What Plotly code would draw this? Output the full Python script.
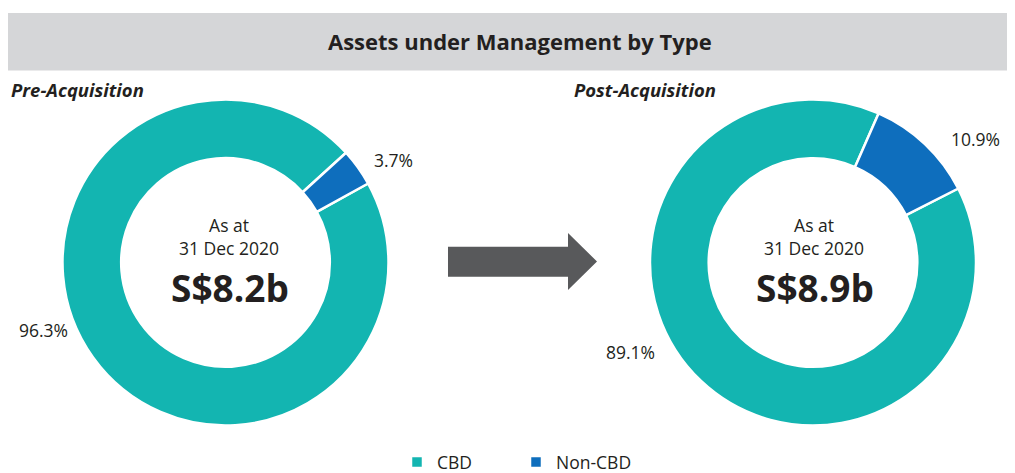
import plotly.graph_objects as go

# ---- data ----
categories = ["CBD", "Non-CBD"]
pre_values = [96.3, 3.7]
post_values = [89.1, 10.9]
panel_titles = ["Pre-Acquisition", "Post-Acquisition"]
center_dates = ["As at<br>31 Dec 2020", "As at<br>31 Dec 2020"]
center_totals = ["S$8.2b", "S$8.9b"]
chart_title = "Assets under Management by Type"

# ---- style ----
OFF = 8  # page body margin
W, H = 1015 - OFF, 473 - OFF
colors = ["#13b5b1", "#0e6ebd"]
text_color = "#231f20"
FONT = "Open Sans"

def px(x):
    return (x - OFF) / W

def py(y):
    return 1 - (y - OFF) / H

fig = go.Figure()

left_dom = dict(x=[px(62.5), px(388.5)], y=[py(426), py(99)])
right_dom = dict(x=[px(650), px(976)], y=[py(426), py(99)])

for vals, dom, rot in [(pre_values, left_dom, 61), (post_values, right_dom, 63)]:
    fig.add_trace(go.Pie(
        labels=categories, values=vals, domain=dom,
        hole=0.64, sort=False, direction="clockwise", rotation=rot,
        marker=dict(colors=colors, line=dict(color="white", width=2.5)),
        textinfo="none", hoverinfo="label+percent",
    ))

# title bar
fig.add_shape(type="rect", xref="paper", yref="paper",
              x0=0, x1=1.0, y0=py(70.5), y1=py(13),
              fillcolor="#d5d6d8", line=dict(width=0), layer="below")

# arrow
pts = [(448, 246.7), (568, 246.7), (568, 233), (597, 261.5), (568, 290), (568, 276.7), (448, 276.7)]
path = "M " + " L ".join(f"{px(x):.5f},{py(y):.5f}" for x, y in pts) + " Z"
fig.add_shape(type="path", xref="paper", yref="paper", path=path,
              fillcolor="#58595b", line=dict(width=0))

ann = []
ann.append(dict(x=px(520), y=py(41.5), text=f"<b>{chart_title}</b>", showarrow=False,
                font=dict(size=22, color=text_color, family=FONT), xanchor="center", yanchor="middle"))
ann.append(dict(x=px(9), y=py(90), text=f"<b><i>{panel_titles[0]}</i></b>", showarrow=False,
                font=dict(size=18.5, color=text_color, family=FONT), xanchor="left", yanchor="middle"))
ann.append(dict(x=px(572), y=py(90), text=f"<b><i>{panel_titles[1]}</i></b>", showarrow=False,
                font=dict(size=18.5, color=text_color, family=FONT), xanchor="left", yanchor="middle"))

centers = [229, 814]
for cx, d, t in zip(centers, center_dates, center_totals):
    ann.append(dict(x=px(cx), y=py(237), text=d, showarrow=False,
                    font=dict(size=17.5, color=text_color, family=FONT), xanchor="center", yanchor="middle"))
    ann.append(dict(x=px(cx + 1), y=py(287), text=f"<b>{t}</b>", showarrow=False,
                    font=dict(size=37, color=text_color, family=FONT), xanchor="center", yanchor="middle"))

label_pos = [
    [(43, 330), (393, 160)],
    [(630, 352), (975, 139)],
]
for vals, poss in zip([pre_values, post_values], label_pos):
    for v, (x, y) in zip(vals, poss):
        ann.append(dict(x=px(x), y=py(y), text=f"{v:.1f}%", showarrow=False,
                        font=dict(size=17.5, color=text_color, family=FONT), xanchor="center", yanchor="middle"))

fig.update_layout(
    width=W, height=H,
    margin=dict(l=0, r=0, t=0, b=0, autoexpand=False),
    paper_bgcolor="white", plot_bgcolor="white",
    annotations=ann,
    showlegend=True,
    legend=dict(orientation="h", x=px(397), xanchor="left", y=py(462), yanchor="middle",
                font=dict(size=17.5, color=text_color, family=FONT),
                traceorder="normal", entrywidth=74, bgcolor="rgba(0,0,0,0)"),
)

fig.write_html("out.html")
